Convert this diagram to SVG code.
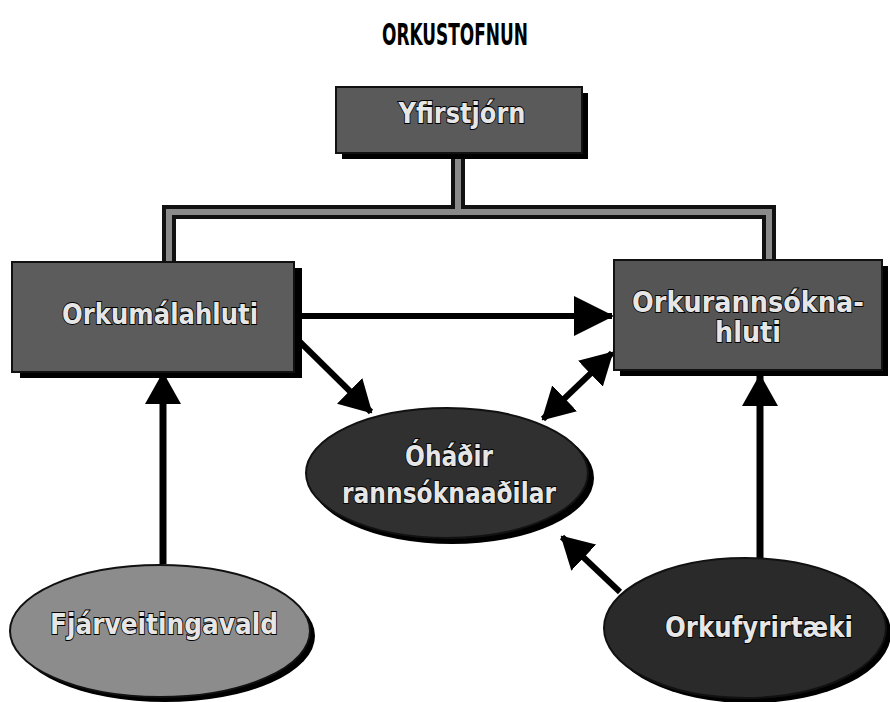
<svg xmlns="http://www.w3.org/2000/svg" width="890" height="702" viewBox="0 0 890 702">
<style>
.title{font-family:"DejaVu Sans","Liberation Sans",sans-serif;font-weight:bold;font-size:30px;fill:#000;text-anchor:middle}
.lbl{font-family:"DejaVu Sans","Liberation Sans",sans-serif;font-weight:bold;font-size:28px;fill:#e6e6e6;stroke:#000;stroke-width:1.8;paint-order:stroke;text-anchor:middle}
.box{stroke:#111;stroke-width:2}
.shadow{fill:#000}
.arrow{stroke:#000;stroke-width:6;fill:none}
.arrowthin{stroke:#000;stroke-width:7;fill:none}
.barOut{stroke:#111;stroke-width:14;fill:none}
.barIn{stroke:#8a8a8a;stroke-width:6;fill:none}
</style>
<defs>
<marker id="headL" markerUnits="userSpaceOnUse" viewBox="0 0 40 40" refX="38" refY="20" markerWidth="40" markerHeight="40" orient="auto-start-reverse">
<path d="M0,0 L40,20 L0,40 Z" fill="#000"/>
</marker>
<marker id="head" markerUnits="userSpaceOnUse" viewBox="0 0 32 36" refX="30" refY="18" markerWidth="32" markerHeight="36" orient="auto-start-reverse">
<path d="M0,0 L32,18 L0,36 Z" fill="#000"/>
</marker>
</defs>
<rect width="890" height="702" fill="#fff"/>

<text class="title" x="455" y="45" textLength="146" lengthAdjust="spacingAndGlyphs">ORKUSTOFNUN</text>

<g id="connectors">
<path class="barOut" d="M458,155 V212 M169,268 V212 H769 V268"/>
<path class="barIn" d="M458,155 V212 M169,268 V212 H769 V268"/>
<line class="arrow" x1="302" y1="316" x2="612" y2="316" marker-end="url(#headL)"/>
<line class="arrow" x1="300" y1="342" x2="371" y2="412" marker-end="url(#head)"/>
<line class="arrow" x1="543" y1="419" x2="612" y2="353" marker-start="url(#head)" marker-end="url(#head)"/>
<line class="arrowthin" x1="163" y1="564" x2="163" y2="374" marker-end="url(#head)"/>
<line class="arrowthin" x1="760" y1="558" x2="760" y2="376" marker-end="url(#head)"/>
<line class="arrow" x1="620" y1="592" x2="562" y2="537" marker-end="url(#head)"/>
</g>

<g id="yfirstjorn">
<rect class="shadow" x="342" y="93" width="246" height="66"/>
<rect class="box" x="336" y="87" width="246" height="66" fill="#5a5a5a"/>
<text class="lbl" x="462" y="123" textLength="127" lengthAdjust="spacingAndGlyphs">Yfirstjórn</text>
</g>

<g id="orkumalahluti">
<rect class="shadow" x="20" y="268" width="282" height="110"/>
<rect class="box" x="12" y="262" width="282" height="110" fill="#5c5c5c"/>
<text class="lbl" x="160" y="324" textLength="196" lengthAdjust="spacingAndGlyphs">Orkumálahluti</text>
</g>

<g id="orkurannsoknahluti">
<rect class="shadow" x="620" y="266" width="268" height="110"/>
<rect class="box" x="614" y="260" width="268" height="110" fill="#555"/>
<text class="lbl" x="748" y="312" textLength="232" lengthAdjust="spacingAndGlyphs">Orkurannsókna-</text>
<text class="lbl" x="748" y="342" textLength="66" lengthAdjust="spacingAndGlyphs">hluti</text>
</g>

<g id="ohadir">
<ellipse class="shadow" cx="452" cy="478" rx="142" ry="66"/>
<ellipse class="box" cx="447" cy="473" rx="141" ry="65" fill="#303030"/>
<text class="lbl" x="449" y="466" textLength="88" lengthAdjust="spacingAndGlyphs">Óháðir</text>
<text class="lbl" x="449" y="503" textLength="214" lengthAdjust="spacingAndGlyphs">rannsóknaaðilar</text>
</g>

<g id="fjarveitingavald">
<ellipse class="shadow" cx="165" cy="636" rx="150" ry="66"/>
<ellipse class="box" cx="160" cy="631" rx="150" ry="66" fill="#8c8c8c"/>
<text class="lbl" x="164" y="634" textLength="228" lengthAdjust="spacingAndGlyphs">Fjárveitingavald</text>
</g>

<g id="orkufyrirtaeki">
<ellipse class="shadow" cx="750" cy="633" rx="141" ry="70"/>
<ellipse class="box" cx="745" cy="628" rx="141" ry="70" fill="#2a2a2a"/>
<text class="lbl" x="759" y="637" textLength="188" lengthAdjust="spacingAndGlyphs">Orkufyrirtæki</text>
</g>
</svg>
